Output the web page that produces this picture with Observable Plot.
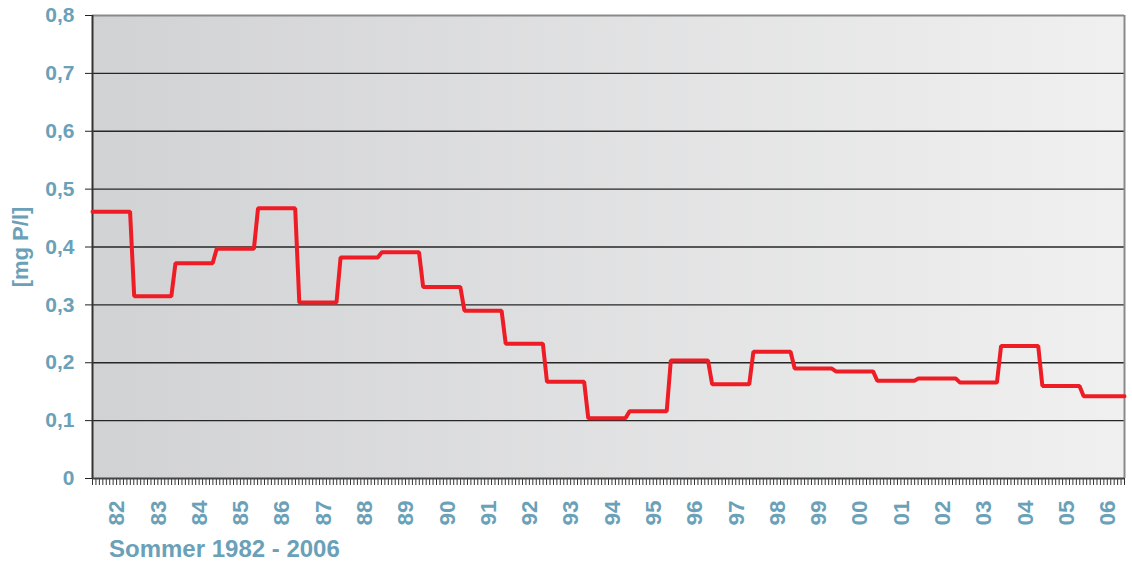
<!DOCTYPE html>
<html><head><meta charset="utf-8">
<script src="https://cdn.jsdelivr.net/npm/d3@7"></script>
<script src="https://cdn.jsdelivr.net/npm/@observablehq/plot@0.6"></script>
<style>
body{margin:0;background:#fff;font-family:"Liberation Sans",Arial,sans-serif;}
#caption{font-weight:bold;font-size:24px;color:#6aa1b8;padding-left:109px;line-height:24px;height:24px;white-space:nowrap}
</style></head><body>
<div id="chart"></div>
<div id="caption">Sommer 1982 - 2006</div>
<script>
const years = ["82","83","84","85","86","87","88","89","90","91","92","93","94","95","96","97","98","99","00","01","02","03","04","05","06"];
const values = [0.461,0.315,0.372,0.397,0.467,0.304,0.382,0.391,0.331,0.290,0.233,0.167,0.104,0.116,0.204,0.163,0.219,0.190,0.185,0.169,0.173,0.166,0.229,0.160,0.142];
const yTicks = [0,0.1,0.2,0.3,0.4,0.5,0.6,0.7,0.8];
const gridValues = [0.1,0.2,0.3,0.4,0.5,0.6,0.7];
const yLabel = "[mg P/l]";
const textColor = "#6aa1b8";

const n = years.length;
// each summer value drawn as a flat segment across its year slot
const pts = [];
years.forEach((yr, i) => {
  pts.push({x: i === 0 ? i : i + 0.01, v: values[i]});
  pts.push({x: i === n - 1 ? i + 1 : i + 0.91, v: values[i]});
});
const monthTicks = d3.range(0, n * 12 + 1).map(k => k / 12);
const yearCenters = years.map((y, i) => i + 0.5);

const bgDefs = () => {
  const defs = d3.create("svg:defs");
  const g = defs.append("linearGradient").attr("id", "bg").attr("x1", "0").attr("x2", "1").attr("y1", "0").attr("y2", "0");
  g.append("stop").attr("offset", "0%").attr("stop-color", "#d1d2d4");
  g.append("stop").attr("offset", "100%").attr("stop-color", "#f0f0f0");
  return defs.node();
};

const chart = Plot.plot({
  width: 1132,
  height: 537,
  marginLeft: 92,
  marginRight: 8,
  marginTop: 15,
  marginBottom: 59,
  style: {fontFamily: "'Liberation Sans', Arial, sans-serif", background: "#fff"},
  x: {domain: [0, n]},
  y: {domain: [0, 0.8]},
  marks: [
    bgDefs,
    Plot.frame({fill: "url(#bg)", stroke: null}),
    Plot.ruleY(gridValues, {stroke: "#262626", strokeWidth: 1.4}),
    Plot.ruleY([0.8], {stroke: "#8a8a8a", strokeWidth: 2}),
    Plot.ruleX([n], {stroke: "#8a8a8a", strokeWidth: 2}),
    Plot.axisX({ticks: monthTicks, tickSize: 7, fill: "none", stroke: "#333", strokeWidth: 1, label: null}),
    Plot.axisX({ticks: yearCenters, tickSize: 0, tickPadding: 22, tickRotate: -90, tickFormat: d => years[Math.floor(d)],
      fill: textColor, fontSize: 22.5, fontWeight: "bold", dx: 4, label: null}),
    Plot.axisY({ticks: yTicks, tickSize: 7, tickPadding: 11, stroke: "#222",
      tickFormat: d => d === 0 ? "0" : d.toFixed(1).replace(".", ","),
      fill: textColor, fontSize: 21, fontWeight: "bold", label: null}),
    Plot.text([yLabel], {frameAnchor: "left", textAnchor: "middle", rotate: -90, dx: -72, fill: textColor, fontSize: 22, fontWeight: "bold"}),
    Plot.ruleY([0], {stroke: "#444", strokeWidth: 2}),
    Plot.ruleX([0], {stroke: "#333", strokeWidth: 2}),
    Plot.line(pts, {x: "x", y: "v", stroke: "#ee1c25", strokeWidth: 4, strokeLinejoin: "miter"})
  ]
});
document.getElementById("chart").appendChild(chart);
</script>
</body></html>
